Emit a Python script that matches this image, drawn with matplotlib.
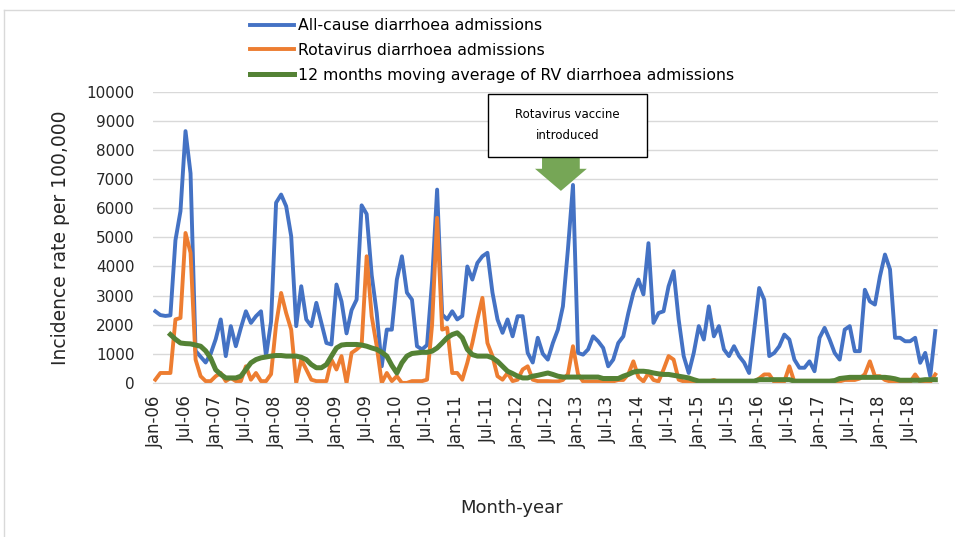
import numpy as np
import pandas as pd
import matplotlib
matplotlib.use('Agg')
import matplotlib.pyplot as plt
from matplotlib.lines import Line2D
from matplotlib.patches import Rectangle, FancyArrow

# monthly values, Jan-2006 .. Dec-2018
months = pd.date_range('2006-01-01', periods=156, freq='MS')
month_labels = list(months.strftime('%b-%y'))

all_cause = [
    2460, 2330, 2300, 2320, 4900, 5900, 8650, 7200, 1100, 900, 700, 1000,      # 2006
    1500, 2180, 920, 1950, 1260, 1890, 2460, 2060, 2290, 2460, 920, 2100,      # 2007
    6190, 6470, 6070, 5040, 1950, 3320, 2180, 1950, 2750, 2060, 1370, 1320,    # 2008
    3380, 2800, 1700, 2500, 2860, 6100, 5800, 3700, 2400, 570, 1830, 1830,     # 2009
    3550, 4350, 3100, 2860, 1260, 1150, 1300, 3500, 6640, 2350, 2180, 2460,    # 2010
    2180, 2300, 4000, 3550, 4120, 4350, 4470, 3100, 2180, 1720, 2180, 1600,    # 2011
    2290, 2290, 1030, 700, 1550, 1000, 800, 1370, 1830, 2630, 4600, 6800,      # 2012
    1030, 970, 1150, 1600, 1430, 1200, 570, 800, 1370, 1600, 2400, 3100,       # 2013
    3550, 3040, 4800, 2060, 2400, 2460, 3320, 3840, 2180, 920, 340, 1030,      # 2014
    1950, 1490, 2630, 1600, 1950, 1150, 920, 1260, 920, 700, 340, 1800,        # 2015
    3260, 2860, 920, 1030, 1260, 1660, 1490, 800, 520, 520, 740, 400,          # 2016
    1550, 1890, 1490, 1030, 800, 1830, 1950, 1090, 1090, 3200, 2800, 2690,     # 2017
    3660, 4410, 3900, 1550, 1550, 1430, 1430, 1550, 690, 1030, 230, 1780,      # 2018
]

rotavirus = [
    110, 340, 340, 340, 2180, 2230, 5150, 4470, 800, 230, 60, 60,
    230, 340, 60, 170, 60, 60, 570, 110, 340, 60, 60, 300,
    2000, 3090, 2400, 1830, 0, 800, 460, 110, 60, 60, 60, 800,
    460, 920, 0, 1030, 1150, 1300, 4350, 2290, 1260, 0, 340, 60,
    230, 0, 0, 60, 60, 60, 110, 2000, 5670, 1830, 1890, 340,
    340, 110, 690, 1370, 2180, 2920, 1370, 920, 230, 110, 340, 60,
    110, 460, 570, 110, 60, 60, 60, 50, 50, 100, 300, 1260,
    300, 50, 50, 50, 50, 50, 50, 50, 100, 100, 300, 740,
    200, 50, 340, 100, 50, 460, 920, 800, 110, 50, 30, 30,
    50, 50, 50, 100, 30, 30, 30, 30, 30, 30, 30, 50,
    150, 290, 290, 30, 30, 50, 570, 30, 30, 30, 30, 30,
    30, 30, 30, 30, 50, 100, 100, 100, 150, 300, 740, 230,
    230, 100, 50, 30, 30, 30, 30, 290, 30, 30, 30, 290,
]

rv_moving_avg = [
    np.nan, np.nan, np.nan, 1660, 1500, 1370, 1350, 1340, 1300, 1260, 1100, 850,
    450, 290, 170, 170, 170, 230, 460, 690, 800, 860, 890, 920,
    940, 940, 920, 920, 920, 880, 800, 630, 520, 520, 630, 920,
    1200, 1300, 1320, 1320, 1320, 1300, 1260, 1200, 1150, 1050, 920, 600,
    340, 690, 920, 1010, 1030, 1050, 1050, 1090, 1200, 1370, 1550, 1660,
    1720, 1550, 1150, 970, 920, 920, 920, 860, 740, 570, 400, 320,
    230, 170, 170, 230, 260, 300, 340, 290, 230, 200, 200, 200,
    200, 200, 200, 200, 200, 150, 150, 150, 150, 230, 290, 370,
    400, 400, 380, 340, 310, 290, 290, 260, 230, 200, 170, 110,
    60, 60, 60, 60, 60, 60, 60, 60, 60, 60, 60, 60,
    110, 110, 110, 110, 110, 110, 110, 60, 60, 60, 60, 60,
    60, 60, 60, 80, 150, 170, 190, 190, 190, 190, 190, 190,
    190, 190, 170, 140, 90, 90, 90, 90, 90, 110, 110, 110,
]

fig = plt.figure(figsize=(9.55, 5.37), dpi=100)
ax = fig.add_axes([0.160, 0.287, 0.822, 0.542])

x = np.arange(len(months))
ax.plot(x, all_cause, color='#4472C4', lw=2.8, solid_joinstyle='round',
        label='All-cause diarrhoea admissions')
ax.plot(x, rotavirus, color='#ED7D31', lw=2.8, solid_joinstyle='round',
        label='Rotavirus diarrhoea admissions')
ax.plot(x, rv_moving_avg, color='#548235', lw=3.6, solid_joinstyle='round',
        label='12 months moving average of RV diarrhoea admissions')

ax.set_xlim(-0.5, len(months) - 0.5)
ax.set_ylim(0, 10000)
ax.set_yticks(np.arange(0, 10001, 1000))
ax.set_xticks(x[::6])
ax.set_xticklabels(month_labels[::6], rotation=90, fontsize=12)
ax.tick_params(axis='y', labelsize=11, length=0, pad=13, labelcolor='#262626')
ax.tick_params(axis='x', length=0, pad=9, labelcolor='#262626')
ax.grid(axis='y', color='#d9d9d9', lw=1)
ax.set_axisbelow(True)
for s in ['top', 'right', 'left']:
    ax.spines[s].set_visible(False)
ax.spines['bottom'].set_color('#d9d9d9')

ax.set_ylabel('Incidence rate per 100,000', fontsize=13.5, labelpad=12,
              color='#262626')
fig.text(512 / 955, 1 - 508 / 537, 'Month-year', ha='center', va='center',
         fontsize=13, color='#262626')

# annotation box + arrow
box = Rectangle((66.1, 7766), 31.6, 2164, facecolor='white', edgecolor='black',
                lw=1, zorder=5)
ax.add_patch(box)
ax.text(81.9, 8848, 'Rotavirus vaccine\nintroduced', ha='center', va='center',
        fontsize=8.5, linespacing=1.8, zorder=6)
ax.add_patch(FancyArrow(80.6, 7766, 0, -1170, width=7.5, head_width=10.3,
                        head_length=760, length_includes_head=True,
                        color='#76A656', lw=0, zorder=4))

fig.legend(loc='upper left', bbox_to_anchor=(250 / 955, 1 - 18 / 537),
           frameon=False, borderpad=0, borderaxespad=0, handlelength=2.8,
           handletextpad=0.25, labelspacing=0.63, fontsize=11.3)

# chart frame
fig.add_artist(Line2D([4 / 955, 1], [1 - 10 / 537] * 2, color='#d9d9d9', lw=1))
fig.add_artist(Line2D([4 / 955] * 2, [0, 1 - 10 / 537], color='#d9d9d9', lw=1))

fig.savefig('out.png', dpi=100)
